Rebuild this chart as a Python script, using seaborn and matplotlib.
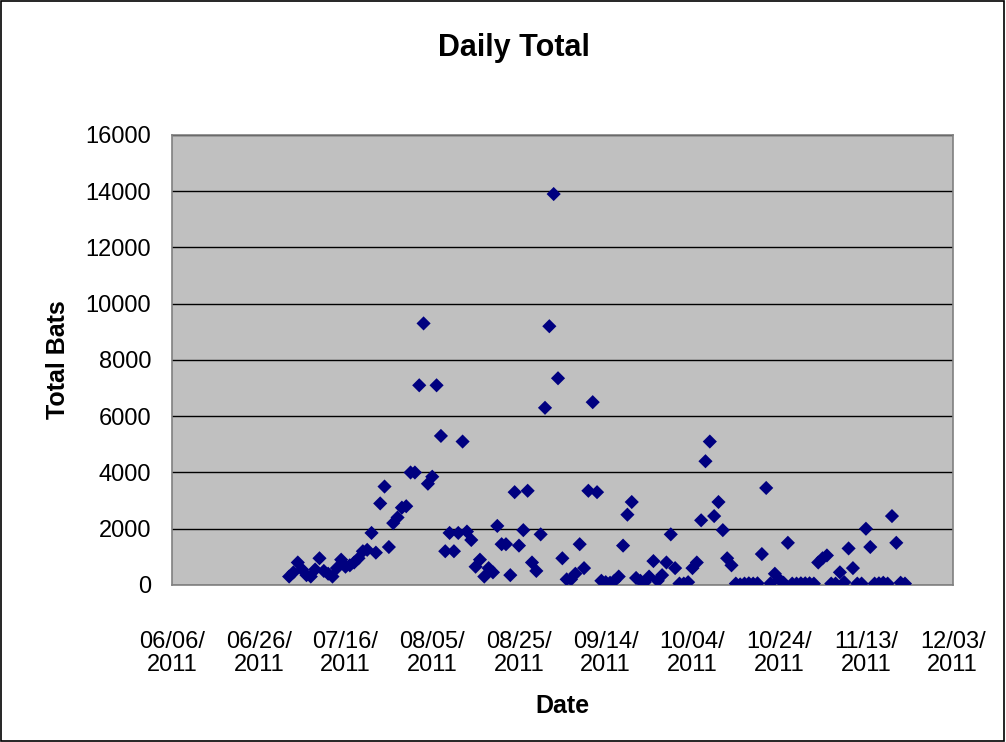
import matplotlib
matplotlib.use("Agg")
import matplotlib.pyplot as plt
import seaborn as sns
import pandas as pd

start_date = "2011-07-03"
total_bats = [
    300, 450, 800, 550, 350, 300, 550, 950, 500, 400,
    300, 600, 900, 650, 700, 800, 950, 1200, 1250, 1850,
    1150, 2900, 3500, 1350, 2200, 2400, 2750, 2800, 4000, 4000,
    7100, 9300, 3600, 3850, 7100, 5300, 1200, 1850, 1200, 1850,
    5100, 1900, 1600, 650, 900, 300, 600, 450, 2100, 1450,
    1450, 350, 3300, 1400, 1950, 3350, 800, 500, 1800, 6300,
    9200, 13900, 7350, 950, 200, 200, 400, 1450, 600, 3350,
    6500, 3300, 150, 100, 80, 150, 300, 1400, 2500, 2950,
    250, 150, 100, 300, 850, 150, 350, 800, 1800, 600,
    50, 50, 100, 600, 800, 2300, 4400, 5100, 2450, 2950,
    1950, 950, 700, 50, 20, 50, 60, 50, 60, 1100,
    3450, 60, 400, 200, 80, 1500, 50, 50, 60, 60,
    60, 50, 800, 950, 1050, 50, 50, 450, 100, 1300,
    600, 50, 50, 2000, 1350, 50, 60, 80, 50, 2450,
    1500, 80, 50,
]
x_min, x_max = "2011-06-06", "2011-12-03"
y_ticks = [0, 2000, 4000, 6000, 8000, 10000, 12000, 14000, 16000]

df = pd.DataFrame({
    "Date": pd.date_range(start_date, periods=len(total_bats), freq="D"),
    "Total Bats": total_bats,
})

sns.set_style("white")
plt.rcParams["font.family"] = ["Liberation Sans", "DejaVu Sans"]
plt.rcParams["text.color"] = "black"
plt.rcParams["axes.labelcolor"] = "black"

fig = plt.figure(figsize=(10.06, 7.42), dpi=100)
ax = fig.add_axes([0.171, 0.2116, 0.776, 0.6065])
ax.set_facecolor("#C0C0C0")

sns.scatterplot(data=df, x="Date", y="Total Bats", marker="D", s=52,
                color="#000080", edgecolor="none", linewidth=0, ax=ax, zorder=3)

ax.set_xlim(pd.Timestamp(x_min), pd.Timestamp(x_max))
ax.set_ylim(0, 16000)
ax.set_yticks(y_ticks)
ax.set_yticklabels([str(v) for v in y_ticks])
xt = pd.date_range(x_min, x_max, freq="20D")
ax.set_xticks(xt)
ax.set_xticklabels([d.strftime("%m/%d/\n%Y") for d in xt], linespacing=1.05)

ax.grid(axis="y", color="black", linewidth=1, zorder=1)
ax.set_axisbelow(True)
for sp in ax.spines.values():
    sp.set_color("#808080")
    sp.set_linewidth(1.2)
ax.tick_params(axis="both", direction="out", length=6, width=1, color="black",
               labelsize=17, labelcolor="black")
ax.tick_params(axis="y", pad=9)
ax.tick_params(axis="x", pad=27)

ax.set_xlabel("Date", fontsize=18, fontweight="bold", labelpad=13)
ax.set_ylabel("Total Bats", fontsize=18, fontweight="bold", labelpad=11)
fig.text(0.511, 0.935, "Daily Total", ha="center", va="center",
         fontsize=22, fontweight="bold", color="black")

border = plt.Rectangle((0.001, 0.001), 0.997, 0.997, transform=fig.transFigure,
                       fill=False, edgecolor="black", linewidth=1.2)
fig.add_artist(border)

fig.savefig("out.png", dpi=100)
